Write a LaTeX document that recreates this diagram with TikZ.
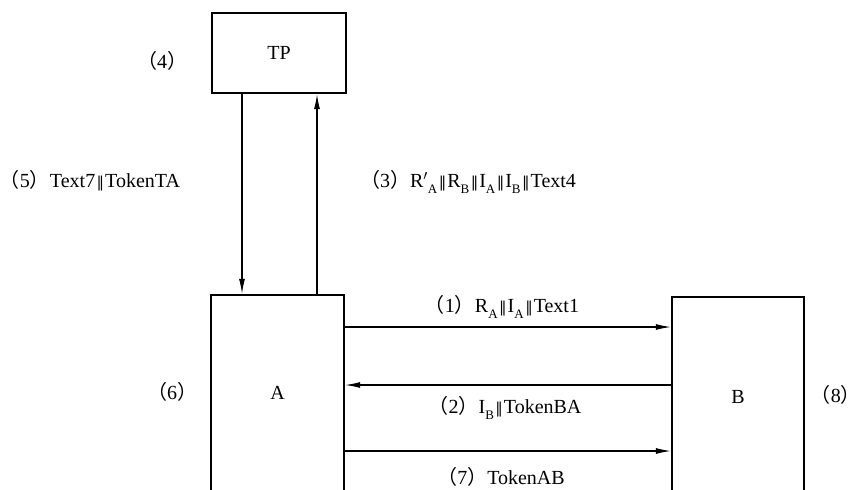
\documentclass[tikz,border=0pt]{standalone}
\usepackage{fontspec}
\setmainfont{Liberation Serif}
\newfontfamily\cjk{Noto Sans CJK SC}
\newfontfamily\symfont{DejaVu Serif}
\usetikzlibrary{arrows.meta}
\newcommand\msgno[1]{{\cjk （}#1{\cjk ）}}
\newcommand\low[1]{\raisebox{-0.6ex}{\fontsize{13}{14}\selectfont #1}}
\newcommand\cat{\hspace{1.5pt}{\symfont\fontsize{15}{17}\selectfont ‖}\hspace{1pt}}
\tikzset{
	box/.style={draw, line width=2.4pt, rectangle},
	msg/.style={line width=1.1pt, -{Latex[length=15pt,width=6pt]}},
	lbl/.style={inner sep=0pt}
}
\begin{document}
\begin{tikzpicture}[x=1pt, y=-1pt, font=\fontsize{20}{23}\selectfont]
			\clip (0,0) rectangle (863,490);
			\node[box, minimum width=134, minimum height=80] (TP) at (279,53) {TP};
			\node[box, minimum width=133, minimum height=196] (A) at (277.5,393) {A};
			\node[box, minimum width=132, minimum height=200] (B) at (738,397) {B};
			\draw[msg] ([xshift=-37pt]TP.south) -- ([xshift=-37pt]TP.south |- A.north);
			\draw[msg] ([xshift=38pt]TP.south |- A.north) -- ([xshift=38pt]TP.south);
			\draw[msg] ([yshift=66pt]A.east) -- ([yshift=66pt]A.east -| B.west);
			\draw[msg] ([yshift=8pt]A.east -| B.west) -- ([yshift=8pt]A.east);
			\draw[msg] ([yshift=-58pt]A.east) -- ([yshift=-58pt]A.east -| B.west);
			\node[lbl] (n4) at (162,61) {\msgno{4}};
			\node[lbl] (n6) at (172,392) {\msgno{6}};
			\node[lbl, anchor=east] (n8) at (861,395) {\msgno{8}};
			\node[lbl] (m5) at (90,181) {\msgno{5}Text7\cat TokenTA};
			\node[lbl] (m3) at (468,182) {\msgno{3}R$'$\low{A}\cat R\low{B}\cat I\low{A}\cat I\low{B}\cat Text4};
			\node[lbl] (m1) at (502,307) {\msgno{1}R\low{A}\cat I\low{A}\cat Text1};
			\node[lbl] (m2) at (505,408) {\msgno{2}I\low{B}\cat TokenBA};
			\node[lbl] (m7) at (501,477) {\msgno{7}TokenAB};
		\end{tikzpicture}
\end{document}
